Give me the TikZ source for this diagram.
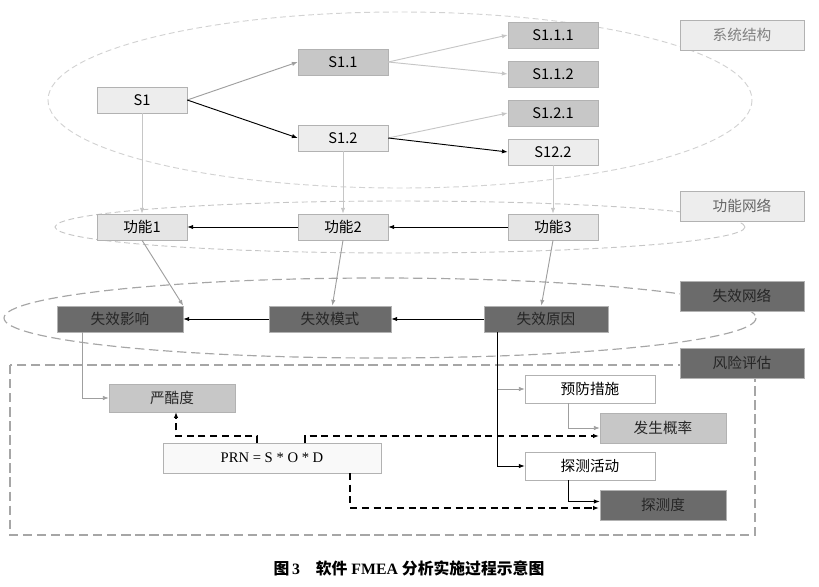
\documentclass[tikz,border=0pt]{standalone}
\usepackage{fontspec}
\setmainfont{Liberation Serif}
\newfontfamily\cjk{Noto Sans CJK SC}
\usetikzlibrary{arrows.meta}
\definecolor{lite}{gray}{0.93}
\definecolor{mid}{gray}{0.78}
\definecolor{dark}{gray}{0.42}
\tikzset{
  box/.style={draw=gray!60, minimum height=26*0.03cm, font=\fontsize{12.5}{14}\selectfont\cjk, inner sep=1pt},
  litebox/.style={box, fill=lite, minimum width=90*0.03cm},
  midbox/.style={box, fill=mid, minimum width=90*0.03cm},
  darkbox/.style={box, fill=dark, text=black!85, minimum width=126*0.03cm},
  tag/.style={box, minimum width=124*0.03cm, minimum height=30*0.03cm},
  arr/.style={-{Latex[length=5pt]}, line width=0.8pt},
  garr/.style={arr, gray!75},
  larr/.style={arr, gray!45},
  dsh/.style={arr, dash pattern=on 6pt off 4pt, line width=1pt}
}
\begin{document}
\begin{tikzpicture}[x=0.03cm, y=-0.03cm]
    \useasboundingbox (0,0) rectangle (819,586);

    % frames
    \draw[gray!35, dash pattern=on 5pt off 3pt, line width=0.8pt] (400,100) ellipse [x radius=352, y radius=88];
    \draw[gray!45, dash pattern=on 5pt off 3pt, line width=0.8pt] (400,227) ellipse [x radius=345, y radius=26];
    \draw[gray!70, dash pattern=on 8pt off 4pt, line width=1pt] (380,318) ellipse [x radius=376, y radius=40];
    \draw[gray!70, dash pattern=on 8pt off 4pt, line width=1pt] (10,365) rectangle (755,535);

    % system structure
    \node[litebox] (s1) at (142,100) {S1};
    \node[midbox] (s11) at (343,62) {S1.1};
    \node[litebox] (s12) at (343,138) {S1.2};
    \node[midbox] (s111) at (553,35) {S1.1.1};
    \node[midbox] (s112) at (553,74) {S1.1.2};
    \node[midbox] (s121) at (553,113) {S1.2.1};
    \node[litebox] (s122) at (553,152) {S12.2};

    % labels
    \node[tag, fill=lite, text=gray] (t1) at (742,35) {系统结构};
    \node[tag, fill=lite, text=gray!80!black] (t2) at (742,206) {功能网络};
    \node[tag, fill=dark, text=black!85] (t3) at (742,296) {失效网络};
    \node[tag, fill=dark, text=black!85] (t4) at (742,363) {风险评估};

    % functions
    \node[litebox, fill=gray!20] (f1) at (142,227) {功能1};
    \node[litebox, fill=gray!20] (f2) at (343,227) {功能2};
    \node[litebox, fill=gray!20] (f3) at (553,227) {功能3};

    % failures
    \node[darkbox] (fe) at (120,319) {失效影响};
    \node[darkbox, minimum width=122*0.03cm] (fm) at (330,319) {失效模式};
    \node[darkbox, minimum width=124*0.03cm] (fc) at (546,319) {失效原因};

    % risk
    \node[darkbox, fill=mid, minimum height=28*0.03cm] (sev) at (172,398) {严酷度};
    \node[box, fill=gray!5, minimum width=218*0.03cm, minimum height=30*0.03cm, font=\fontsize{12.5}{14}\selectfont] (prn) at (272,458) {PRN = S * O * D};
    \node[box, fill=white, minimum width=130*0.03cm, minimum height=28*0.03cm] (pre) at (590,389) {预防措施};
    \node[darkbox, fill=mid, minimum height=30*0.03cm] (occ) at (663,428) {发生概率};
    \node[box, fill=white, minimum width=130*0.03cm, minimum height=28*0.03cm] (det) at (590,466) {探测活动};
    \node[darkbox, minimum height=30*0.03cm] (dd) at (663,505) {探测度};
    \coordinate (occin) at (599,436);
    \coordinate (ddin) at (599,508);

    \draw[garr] (s1.east) -- (s11.west);
    \draw[arr] (s1.east) -- (s12.west);
    \draw[larr] (s11.east) -- (s111.west);
    \draw[larr] (s11.east) -- (s112.west);
    \draw[larr] (s12.east) -- (s121.west);
    \draw[arr] (s12.east) -- (s122.west);
    \draw[larr] (s1) -- (f1);
    \draw[larr] (s12) -- (f2);
    \draw[larr] (s122) -- (f3);
    \draw[arr] (f3) -- (f2);
    \draw[arr] (f2) -- (f1);
    \draw[garr] (f1.south) -- (fe.north east);
    \draw[garr] (f2.south) -- ([xshift=2pt]fm.north);
    \draw[garr] (f3.south) -- ([xshift=-4pt]fc.north);
    \draw[arr] (fc) -- (fm);
    \draw[arr] (fm) -- (fe);

    \draw[garr, line width=0.6pt] ([xshift=-38*0.03cm]fe.south) |- (sev.west);
    \draw[garr, line width=0.6pt] ([xshift=-49*0.03cm]fc.south) |- (pre.west);
    \draw[arr] ([xshift=-49*0.03cm]fc.south) |- (det.west);
    \draw[garr, line width=0.6pt] ([xshift=-22*0.03cm]pre.south) |- (occ.west);
    \draw[arr] ([xshift=-22*0.03cm]det.south) |- ([yshift=3pt]dd.west);
    \draw[dsh] (257,443) -- (257,436) -| (176,412);
    \draw[dsh] (305,443) -- (305,436) -- (occin);
    \draw[dsh] (350,473) |- (ddin);

    \node[font=\bfseries\fontsize{13.5}{16}\selectfont] (cap) at (409,568) {{\cjk\bfseries 图}\,3\quad{\cjk 软件} FMEA {\cjk 分析实施过程示意图}};
\end{tikzpicture}
\end{document}
